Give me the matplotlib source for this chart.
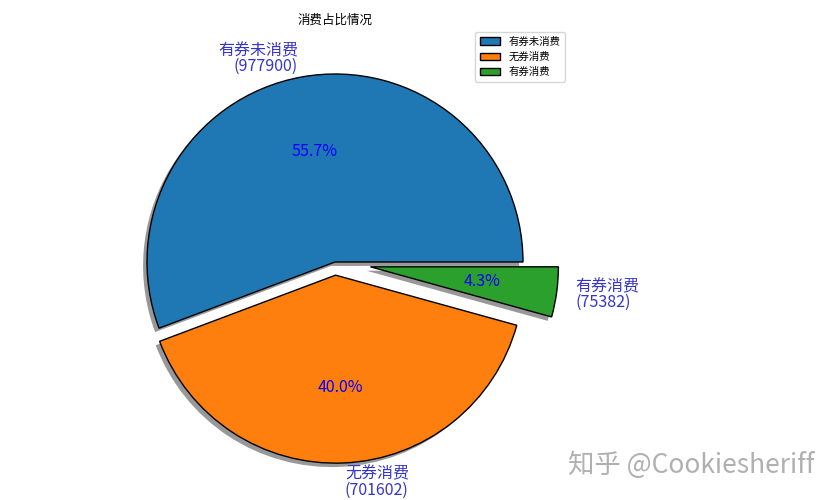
import matplotlib
matplotlib.use("Agg")
import matplotlib.pyplot as plt

plt.rcParams['font.family'] = ['Noto Sans CJK SC', 'DejaVu Sans']
plt.rcParams['axes.unicode_minus'] = False

categories = ['有券未消费', '无券消费', '有券消费']
values = [977900, 701602, 75382]
colors = ['#1f77b4', '#ff7f0e', '#2ca02c']
explode = [0.0, 0.07, 0.19]

labels = [f'{c}\n({v})' for c, v in zip(categories, values)]

fig = plt.figure(figsize=(8.37, 5.0), dpi=100)
# axes: 470x470 px square, centred at x=335
ax = fig.add_axes([100 / 837, 3 / 500, 470 / 837, 470 / 500])

wedges, texts, autotexts = ax.pie(
    values, labels=labels, colors=colors, explode=explode,
    autopct='%1.1f%%',
    shadow={'ox': -0.015, 'oy': -0.015, 'facecolor': '0.2', 'edgecolor': 'none', 'alpha': 0.5},
    startangle=0, labeldistance=1.1, pctdistance=0.6,
    wedgeprops={'edgecolor': 'black', 'linewidth': 1.0},
    textprops={'color': 'blue', 'fontsize': 11.5})
for t in texts:
    t.set_color('#3535c8')
    t.set_linespacing(0.95)
ax.set_xlim(-1.25, 1.25)
ax.set_ylim(-1.25, 1.25)
ax.set_aspect('equal')
ax.set_title('消费占比情况', fontsize=9, pad=1.5)
ax.legend(wedges, categories, loc='upper right', fontsize=7.5)

fig.text(815 / 837, 1 - 465 / 500, '知乎 @Cookiesheriff', color='#b0b0b0',
         fontsize=19, ha='right', va='center')

fig.savefig('out.png', dpi=100)
